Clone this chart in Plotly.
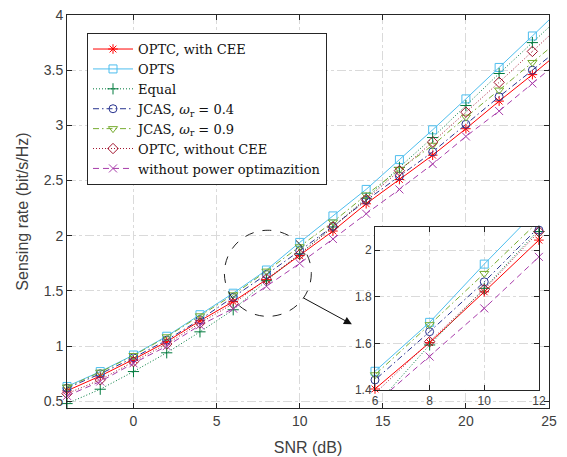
import plotly.graph_objects as go

# ---- data ----
snr = [-4, -2, 0, 2, 4, 6, 8, 10, 12, 14, 16, 18, 20, 22, 24, 26]
optc_cee = [0.596, 0.73, 0.88, 1.04, 1.23, 1.404, 1.603, 1.821, 2.043, 2.29, 2.51, 2.73, 2.97, 3.22, 3.46, 3.71]
opts = [0.635, 0.77, 0.92, 1.09, 1.285, 1.48, 1.69, 1.94, 2.18, 2.42, 2.69, 2.96, 3.24, 3.525, 3.81, 4.10]
equal = [0.48, 0.61, 0.77, 0.94, 1.13, 1.33, 1.593, 1.836, 2.08, 2.34, 2.62, 2.89, 3.18, 3.47, 3.75, 4.03]
jcas04 = [0.62, 0.75, 0.895, 1.055, 1.24, 1.443, 1.65, 1.864, 2.086, 2.32, 2.54, 2.76, 3.01, 3.26, 3.50, 3.74]
jcas09 = [0.63, 0.765, 0.915, 1.085, 1.275, 1.465, 1.68, 1.90, 2.125, 2.37, 2.60, 2.82, 3.075, 3.32, 3.57, 3.82]
optc_nocee = [0.57, 0.695, 0.86, 1.02, 1.21, 1.385, 1.607, 1.831, 2.079, 2.33, 2.59, 2.85, 3.12, 3.39, 3.67, 3.95]
no_power = [0.55, 0.68, 0.845, 1.0, 1.19, 1.34, 1.543, 1.75, 1.971, 2.20, 2.42, 2.65, 2.90, 3.13, 3.38, 3.63]

names = ["OPTC, with CEE", "OPTS", "Equal",
         "JCAS, <i>ω</i><sub>r</sub> = 0.4", "JCAS, <i>ω</i><sub>r</sub> = 0.9",
         "OPTC, without CEE", "without power optimazition"]

x_ticks = [0, 5, 10, 15, 20, 25]
y_ticks = [0.5, 1, 1.5, 2, 2.5, 3, 3.5, 4]
y_ticktext = ["0.5", "1", "1.5", "2", "2.5", "3", "3.5", "4"]
inset_x_ticks = [6, 8, 10, 12]
inset_y_ticks = [1.4, 1.6, 1.8, 2.0]
inset_y_ticktext = ["1.4", "1.6", "1.8", "2"]

series = [optc_cee, opts, equal, jcas04, jcas09, optc_nocee, no_power]
DOT = "1px,2px"
DASHDOT = "6px,3px,1.5px,3px"
DASH = "6px,4px"
styles = [
    dict(color="#FF0000", dash="solid", symbol="asterisk-open"),
    dict(color="#4DBEEE", dash="solid", symbol="square-open"),
    dict(color="#007A3D", dash=DOT, symbol="cross-thin-open"),
    dict(color="#2A3590", dash=DASHDOT, symbol="circle-open"),
    dict(color="#77AC30", dash=DASHDOT, symbol="triangle-down-open"),
    dict(color="#A2142F", dash=DOT, symbol="diamond-open"),
    dict(color="#A83CAA", dash=DASH, symbol="x-thin-open"),
]

MAIN_X = [-4, 25]
MAIN_Y = [0.44, 4]
INS_X = [6, 12]
INS_Y = [1.4, 2.1]

fig = go.Figure()
nshown = len(snr) - 1  # last point lies beyond the axis limit
for name, ys, st in zip(names, series, styles):
    mk = dict(symbol=st["symbol"], size=8, color=st["color"],
              line=dict(width=1, color=st["color"]))
    ln = dict(color=st["color"], width=1, dash=st["dash"])
    fig.add_trace(go.Scatter(x=snr[:nshown], y=ys[:nshown], mode="lines+markers",
                             name=name, line=ln, marker=mk, cliponaxis=False))
    fig.add_trace(go.Scatter(x=snr[nshown - 1:], y=ys[nshown - 1:], mode="lines",
                             line=ln, showlegend=False, hoverinfo="skip"))

# inset
for name, ys, st in zip(names, series, styles):
    mk = dict(symbol=st["symbol"], size=8, color=st["color"],
              line=dict(width=1, color=st["color"]))
    ln = dict(color=st["color"], width=1, dash=st["dash"])
    fig.add_trace(go.Scatter(x=snr, y=ys, mode="lines", line=ln, showlegend=False,
                             xaxis="x2", yaxis="y2", hoverinfo="skip"))
    keep = [(a, b) for a, b in zip(snr, ys)
            if INS_X[0] <= a <= INS_X[1] and INS_Y[0] <= b <= INS_Y[1]]
    fig.add_trace(go.Scatter(x=[k[0] for k in keep], y=[k[1] for k in keep], mode="markers",
                             marker=mk, showlegend=False,
                             xaxis="x2", yaxis="y2", cliponaxis=False))

axcol = "#262626"
gridcol = "#DADADA"
SANS = "Liberation Sans, Arial, sans-serif"
tickfont = dict(family=SANS, size=14, color="#404040")

common = dict(showline=True, linecolor=axcol, linewidth=1, mirror="ticks",
              ticks="inside", ticklen=5, tickcolor=axcol, showgrid=True,
              gridcolor=gridcol, griddash="dashdot", gridwidth=1, zeroline=False,
              automargin=False)

fig.update_layout(
    template="none",
    width=567, height=457,
    margin=dict(l=67, r=18, t=15, b=49),
    paper_bgcolor="white", plot_bgcolor="white",
    xaxis=dict(range=MAIN_X, tickvals=x_ticks, tickfont=tickfont,
               title=dict(text="SNR (dB)", font=dict(family=SANS, size=16, color="#404040"), standoff=14),
               **common),
    yaxis=dict(range=MAIN_Y, tickvals=y_ticks, ticktext=y_ticktext, tickfont=tickfont,
               title=dict(text="Sensing rate (bit/s/Hz)", font=dict(family=SANS, size=16, color="#404040"), standoff=11),
               **common),
    xaxis2=dict(domain=[0.639, 0.979], anchor="y2", range=INS_X, tickvals=inset_x_ticks,
                tickfont=dict(family=SANS, size=12, color="#404040"),
                **common),
    yaxis2=dict(domain=[0.046, 0.461], anchor="x2", range=INS_Y, tickvals=inset_y_ticks,
                ticktext=inset_y_ticktext,
                tickfont=dict(family=SANS, size=12, color="#404040"),
                **common),
    legend=dict(x=0.0415, y=0.954, xanchor="left", yanchor="top",
                bgcolor="white", bordercolor=axcol, borderwidth=1,
                font=dict(family="DejaVu Serif, serif", size=13, color="#111111"),
                tracegroupgap=0, itemwidth=40),
    showlegend=True,
)

# dashed zoom circle and arrow
fig.add_shape(type="circle", xref="x", yref="y", x0=5.47, x1=10.7, y0=1.27, y1=2.05,
              line=dict(color="#222222", width=1, dash="dash"), layer="above")
fig.add_annotation(x=13.14, y=1.198, ax=10.14, ay=1.444, xref="x", yref="y",
                   axref="x", ayref="y", text="", showarrow=True, arrowhead=2,
                   arrowsize=1.6, arrowwidth=1, arrowcolor="#111111")

fig.write_html("out.html", config={"displayModeBar": False},
               post_script="document.body.style.margin='0px';")
